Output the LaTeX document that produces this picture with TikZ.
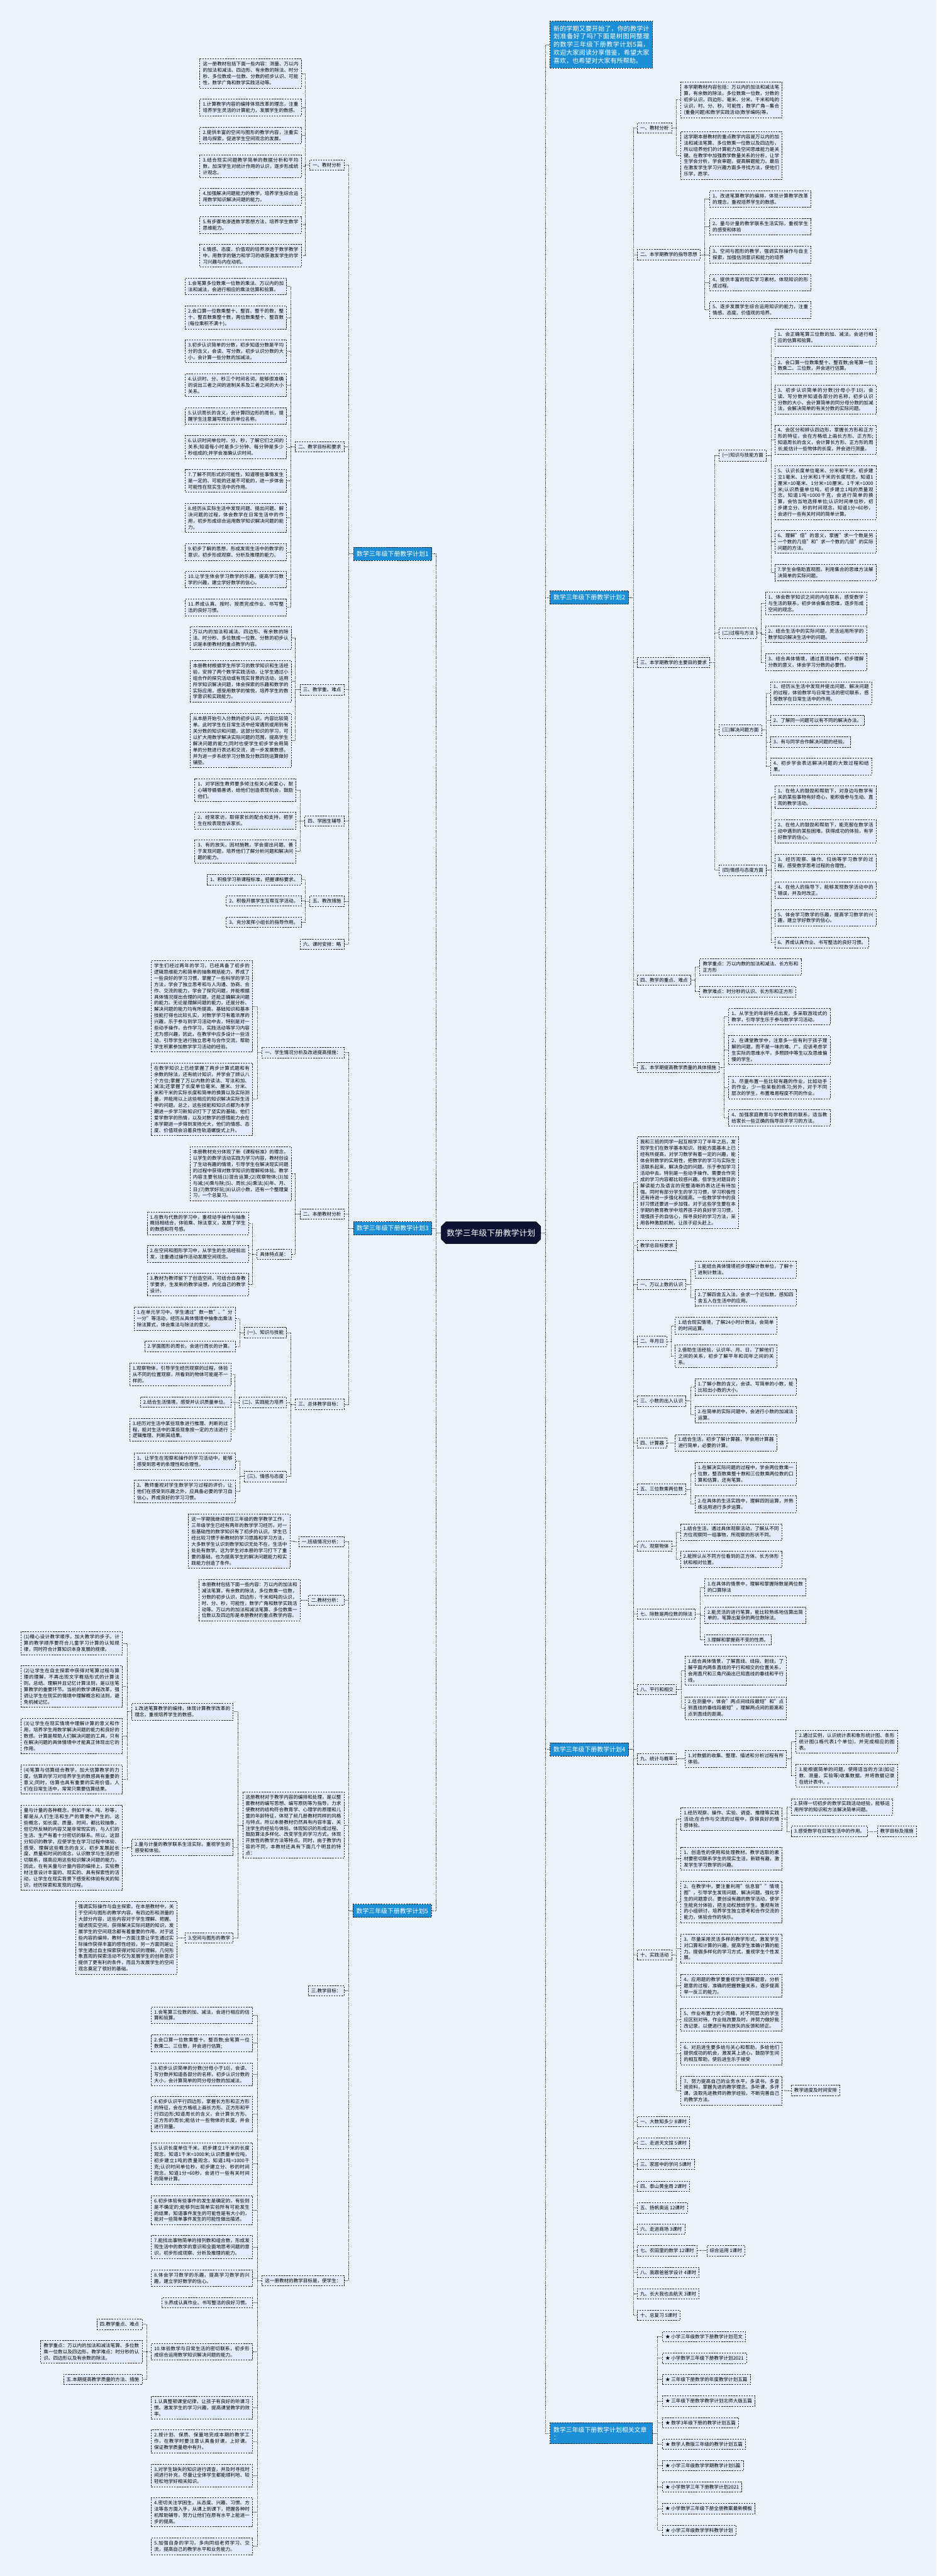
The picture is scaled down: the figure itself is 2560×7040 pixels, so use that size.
\documentclass[tikz,border=0pt]{standalone}
\usepackage{fontspec}
\setmainfont{Noto Sans CJK SC}
\usetikzlibrary{shapes.misc}
\XeTeXlinebreaklocale "zh"
\XeTeXlinebreakskip=0pt plus 1pt
\tolerance=10000
\definecolor{pagebg}{HTML}{EEF4FE}
\definecolor{boxbg}{HTML}{E2EBFA}
\definecolor{topicblue}{HTML}{1C8FD6}
\definecolor{rootnavy}{HTML}{0E1233}
\definecolor{lineblk}{HTML}{222222}
\tikzset{
  dashbox/.style={draw=lineblk, line width=1.4pt, dash pattern=on 4pt off 3pt},
  tag/.style={dashbox, fill=boxbg, inner xsep=8pt, inner ysep=8pt, font=\fontsize{13}{17}\selectfont},
  note/.style={tag, text width=261pt, align=justify},
  topic/.style={dashbox, fill=topicblue, text=white, inner xsep=9pt, inner ysep=10pt, font=\fontsize{17}{21}\selectfont},
  hexa/.style={chamfered rectangle, chamfered rectangle xsep=9pt, draw=black, line width=1pt, fill=rootnavy, text=white, font=\fontsize{22}{26}\selectfont, inner xsep=6pt, inner ysep=16pt},
  link/.style={draw=lineblk, line width=1.5pt, dash pattern=on 2pt off 2pt},
}
\begin{document}
\begin{tikzpicture}[x=1pt, y=-1pt]
\fill[pagebg] (0,0) rectangle (2560,7040);
\useasboundingbox (0,0) rectangle (2560,7040);

% centre
\node[hexa] (plan) at (1342,3369) {数学三年级下册教学计划};
\node[topic, anchor=west, text width=262pt, align=justify, inner ysep=12pt, font=\fontsize{17.3}{22}\selectfont] (intro) at (1503,122) {新的学期又要开始了，你的教学计划准备好了吗?下面是树图网整理的数学三年级下册教学计划5篇，欢迎大家阅读分享借鉴，希望大家喜欢，也希望对大家有所帮助。};

% plan 1
\node[topic, anchor=east] (p1) at (1181,1514) {数学三年级下册教学计划1};
\node[tag, anchor=east] (p1a) at (941,451) {一、教材分析};
\node[note, anchor=east] (p1a1) at (824,201) {这一册教材包括下面一些内容：测量、万以内的加法和减法、四边形、有余数的除法、时分秒、多位数成一位数、分数的初步认识、可能性，数学广角和数学实践活动等。};
\node[note, anchor=east] (p1a2) at (824,294) {1.计算教学内容的编排体现改革的理念，注重培养学生灵活的计算能力，发展学生的数感。};
\node[note, anchor=east] (p1a3) at (824,370) {2.提供丰富的空间与图形的教学内容，注重实践与探索，促进学生空间观念的发展。};
\node[note, anchor=east] (p1a4) at (824,455) {3.结合现实问题教学简单的数据分析和平均数，加深学生对统计作用的认识，逐步形成统计观念。};
\node[note, anchor=east] (p1a5) at (824,538) {4.加强解决问题能力的教学，培养学生综合运用数学知识解决问题的能力。};
\node[note, anchor=east] (p1a6) at (824,615) {5.有步骤地渗透数学思想方法，培养学生数学思维能力。};
\node[note, anchor=east] (p1a7) at (824,699) {6.情感、态度、价值观的培养渗透于数学教学中，用数学的魅力和学习的收获激发学生的学习兴趣与内在动机。};
\node[tag, anchor=east] (p1b) at (941,1221) {二、教学目标和要求};
\node[note, anchor=east] (p1b1) at (784,783) {1.会笔算多位数乘一位数的乘法、万以内的加法和减法，会进行相应的乘法估算和验算。};
\node[note, anchor=east] (p1b2) at (784,868) {2.会口算一位数乘整十、整百、整千的数，整十、整百数乘整十数，两位数乘整十、整百数(每位乘积不满十)。};
\node[note, anchor=east] (p1b3) at (784,960) {3.初步认识简单的分数，初步知道分数是平均分的含义，会读、写分数，初步认识分数的大小，会计算一些分数的加减法。};
\node[note, anchor=east] (p1b4) at (784,1053) {4.认识时、分、秒三个时间名词，能够很准确的说出三者之间的进制关系及三者之间的大小关系。};
\node[note, anchor=east] (p1b5) at (784,1137) {5.认识周长的含义，会计算四边形的周长，提醒学生注意漏写周长的单位名称。};
\node[note, anchor=east] (p1b6) at (784,1222) {6.认识时间单位时、分、秒，了解它们之间的关系;知道每小时是多少分钟、每分钟是多少秒组成的;并学会准确认识时间。};
\node[note, anchor=east] (p1b7) at (784,1314) {7.了解不同形式的可能性，知道哪些事情发生是一定的、可能的还是不可能的，进一步体会可能性在现实生活中的作用。};
\node[note, anchor=east] (p1b8) at (784,1415) {8.经历从实际生活中发现问题、提出问题、解决问题的过程，体会数学在日常生活中的作用，初步形成综合运用数学知识解决问题的能力。};
\node[note, anchor=east] (p1b9) at (784,1509) {9.初步了解的思想，形成发现生活中的数学的意识，初步形成观察、分析及推理的能力。};
\node[note, anchor=east] (p1b10) at (784,1584) {10.让学生体会学习数学的乐趣，提高学习数学的兴趣，建立学好数学的信心。};
\node[note, anchor=east] (p1b11) at (784,1660) {11.养成认真、按时、按质完成作业、书写整洁的良好习惯。};
\node[tag, anchor=east] (p1c) at (941,1885) {三、教学重、难点};
\node[note, anchor=east] (p1c1) at (797,1744) {万以内的加法和减法、四边形、有余数的除法、时分秒、多位数成一位数、分数的初步认识是本册教材的重点教学内容。};
\node[note, anchor=east] (p1c2) at (797,1862) {本册教材根据学生所学习的数学知识和生活经验，安排了两个数学实践活动，让学生通过小组合作的探究活动或有现实背景的活动，运用所学知识解决问题，体会探索的乐趣和数学的实际应用，感受用数学的愉悦，培养学生的数学意识和实践能力。};
\node[note, anchor=east] (p1c3) at (797,2024) {从本册开始引入分数的初步认识，内容比较简单。此时学生在日常生活中经常遇到或用到有关分数的知识和问题，这部分知识的学习，可以扩大用数学解决实际问题的范围，提高学生解决问题的能力;同时也使学生初步学会用简单的分数进行表达和交流，进一步发展数感，并为进一步系统学习分数及分数四则运算做好铺垫。};
\node[tag, anchor=east] (p1d) at (941,2244) {四、学困生辅导};
\node[note, anchor=east] (p1d1) at (810,2160) {1、对学困生教师要多倾注些关心和爱心，耐心辅导循循善诱，给他们创造表现机会，鼓励他们。};
\node[note, anchor=east] (p1d2) at (810,2243) {2、经常家访，取得家长的配合和支持，把学生在校表现告诉家长。};
\node[note, anchor=east] (p1d3) at (810,2327) {3、有的放矢，因材施教。学会提出问题、善于发现问题，培养他们了解分析问题和解决问题的能力。};
\node[tag, anchor=east] (p1e) at (941,2463) {五、教改措施};
\node[tag, anchor=east] (p1e1) at (824,2404) {1、积极学习新课程标准，把握课标要求。};
\node[tag, anchor=east] (p1e2) at (824,2462) {2、积极开展学生互帮互学活动。};
\node[tag, anchor=east] (p1e3) at (824,2520) {3、充分发挥小组长的指导作用。};
\node[tag, anchor=east] (p1f) at (941,2580) {六、课时安排：略};

% plan 3
\node[topic, anchor=east] (p3) at (1181,3357) {数学三年级下册教学计划3};
\node[tag, anchor=east] (p3a) at (941,2877) {一、学生情况分析及改进提高措施：};
\node[note, anchor=east] (p3a1) at (691,2750) {学生们经过两年的学习，已经具备了初步的逻辑思维能力和简单的抽象概括能力，养成了一些良好的学习习惯，掌握了一些科学的学习方法，学会了独立思考和与人沟通、协商、合作、交流的能力，学会了探究问题，并能根据具体情况提出合理的问题，还能正确解决问题的能力。无论是理解问题的能力，还是分析、解决问题的能力均有所提高，基础知识和基本技能打得也比较扎实，对数学学习有着浓厚的兴趣，乐于参与到学习活动中去，特别是对一些动手操作，合作学习，实践活动等学习内容尤为感兴趣，因此，在教学中应多设计一些活动，引导学生进行独立思考与合作交流，帮助学生积累参加数学学习活动的经验。};
\node[note, anchor=east] (p3a2) at (691,3004) {在数学知识上已经掌握了两步计算式题和有余数的除法，还有统计知识，并学会了辨认八个方位;掌握了万以内数的读法、写法和加、减法;还掌握了长度单位毫米、厘米、分米、米和千米的实际长度和简单的换算以及实际测量，并能用以上这些相应的知识解决实际生活中的问题。总之，这些技能和知识点都为本学期进一步学习新知识打下了坚实的基础，他们爱学数学的热情，以及对数学的感悟能力会在本学期进一步得到发扬光大，他们的情感、态度、价值观会沿着良性轨道螺旋式上升。};
\node[tag, anchor=east] (p3b) at (941,3318) {二、本册教材分析};
\node[note, anchor=east] (p3b1) at (797,3208) {本册教材充分体现了新《课程标准》的理念，以学生的数学活动实践为学习内容，教材创设了生动有趣的情境，引导学生在解决现实问题的过程中获得对数学知识的理解和体验。教学内容主要包括(1)混合运算;(2)观察物体;(3)加与减;(4)乘与除;(5)、周长;(6)乘法;(6)年、月、日;(7)数学好玩;(8)认识小数，还有一个整理复习，一个总复习。};
\node[tag, anchor=east] (p3b2) at (797,3428) {具体特点是：};
\node[note, anchor=east] (p3b2a) at (680,3343) {1.在数与代数的学习中，重视动手操作与抽象概括相结合，体验乘、除法意义，发展了学生的数感和符号感。};
\node[note, anchor=east] (p3b2b) at (680,3427) {2.在空间和图形学习中，从学生的生活经验出发，注重通过操作活动发展空间观念。};
\node[note, anchor=east] (p3b2c) at (680,3511) {3.教材为教师留下了创造空间，可结合自身教学要求，生发新的教学设想，内化自己的教学设计。};
\node[tag, anchor=east] (p3c) at (941,3838) {三、总体教学目标：};
\node[tag, anchor=east] (p3c1) at (784,3642) {(一)、知识与技能};
\node[note, anchor=east] (p3c1a) at (644,3604) {1.在单元学习中，学生通过"数一数"、"分一分"等活动，经历从具体情境中抽象出乘法除法算式，体会乘法与除法的意义。};
\node[tag, anchor=east] (p3c1b) at (644,3680) {2.学面图形的周长，会进行周长的计算。};
\node[tag, anchor=east] (p3c2) at (784,3833) {(二)、实践能力培养};
\node[note, anchor=east] (p3c2a) at (632,3756) {1.观察物体，引导学生经历观察的过程，体验从不同的位置观察，所看到的物体可能是不一样的。};
\node[tag, anchor=east] (p3c2b) at (632,3832) {2.结合生活情境，感受并认识质量单位。};
\node[note, anchor=east] (p3c2c) at (632,3907) {3.经历对生活中某些现象进行推理、判断的过程，能对生活中的某些现象按一定的方法进行逻辑推理、判断其结果。};
\node[tag, anchor=east] (p3c3) at (784,4035) {(三)、情感与态度};
\node[note, anchor=east] (p3c3a) at (644,3993) {1、让学生在观察和操作的学习活动中，能够感受到思考的条理性和合理性。};
\node[note, anchor=east] (p3c3b) at (644,4076) {2、教师重视对学生数学学习过程的评价，让他们在感受到乐趣之外，应具备必要的学习自信心，养成良好的学习习惯。};

% plan 5
\node[topic, anchor=east] (p5) at (1180,5222) {数学三年级下册教学计划5};
\node[tag, anchor=east] (p5a) at (941,4213) {一.班级情况分析：};
\node[note, anchor=east] (p5a1) at (793,4212) {这一学期我继续担任三年级的数学教学工作，三年级学生已经有两年的数学学习经历，对一些基础性的数学知识有了初步的认识。学生已经比较习惯于新教材的学习思路和学习方法，大多数学生认识到数学知识无处不在，生活中处处有数学。这为学生对本册的学习打下了重要的基础，也为提高学生的解决问题能力和实践能力创造了条件。};
\node[tag, anchor=east] (p5b) at (941,4373) {二.教材分析：};
\node[note, anchor=east] (p5b1) at (821,4373) {本册教材包括下面一些内容：万以内的加法和减法笔算，有余数的除法，多位数乘一位数，分数的初步认识，四边形，千米和吨的认识，时、分、秒，可能性，数学广角和数学实践活动等。万以内的加法和减法笔算、多位数乘一位数以及四边形是本册教材的重点教学内容。};
\node[note, anchor=east] (p5c) at (941,4988) {这册教材对于教学内容的编排和处理，是以整套教材的编写思想、编写原则等为指导，力求使教材的结构符合教育学、心理学的原理和儿童的年龄特征，体现了前几册教材同样的风格与特点。所以本册教材仍然具有内容丰富、关注学生的经验与体验、体现知识的形成过程、鼓励算法多样化、改变学生的学习方式，体现开放性的教学方法等特点。同时，由于教学内容的不同，本教材还具有下面几个明显的特点：};
\node[note, anchor=east] (p5c1) at (638,4678) {1.改进笔算教学的编排，体现计算教学改革的理念，重视培养学生的数感。};
\node[note, anchor=east] (p5c1a) at (335,4491) {(1)精心设计教学顺序，加大教学的步子。计算的教学顺序要符合儿童学习计算的认知规律，同时符合计算知识本身发展的规律。};
\node[note, anchor=east] (p5c1b) at (335,4609) {(2)让学生在自主探索中获得对笔算过程与算理的理解，不再出现文字概括形式的计算法则。总结、理解并且记忆计算法则，是以往笔算教学的重要环节。当前的数学课程改革，强调让学生在现实的情境中理解概念和法则，避免机械记忆。};
\node[note, anchor=east] (p5c1c) at (335,4745) {(3)让学生在现实情境中理解计算的意义和作用，培养学生用数学解决问题的能力和良好的数感。计算是帮助人们解决问题的工具，只有在解决问题的具体情境中才能真正体现出它的作用。};
\node[note, anchor=east] (p5c1d) at (335,4863) {(4)笔算与估算结合教学，加大估算教学的力度。估算的学习对培养学生的数感具有重要的意义;同时，估算也具有重要的实用价值，人们在日常生活中，常常只需要估算结果。};
\node[note, anchor=east] (p5c2) at (638,5049) {2.量与计量的教学联系生活实际，重视学生的感受和体验。};
\node[note, anchor=east] (p5c2a) at (335,5050) {量与计量的各种概念，例如千米、吨、秒等，都是从人们生活和生产的需要中产生的。这些概念，如长度、质量、时间，都比较抽象，但它所反映的内容又是非常现实的，与人们的生活、生产有着十分密切的联系。所以，这部分知识的教学，应使学生在学习过程中体验、感受、理解这些概念的含义，初步发展起长度、质量和时间的观念，认识数学与生活的密切联系，提高应用这些知识解决问题的能力。因此，在有关量与计量内容的编排上，实验教材注意设计丰富的、现实的、具有探索性的活动，让学生在现实背景下感受和体验有关的知识，经历探索和发现的过程。};
\node[tag, anchor=east] (p5c3) at (638,5296) {3.空间与图形的教学};
\node[note, anchor=east] (p5c3a) at (484,5296) {强调实际操作与自主探索，在本册教材中，关于空间与图形的教学内容，有四边形和测量的大部分内容，这些内容对于学生理解、把握、描述现实空间，获得解决实际问题的知识，发展学生的空间观念都有着重要的作用。对于这些内容的编排，教材一方面注意让学生通过实际操作获得丰富的感性经验，另一方面则是让学生通过自主探索获得对知识的理解。几何形象直观的探索活动不仅为发展学生的创新意识提供了更有利的条件，而且为发展学生的空间观念奠定了很好的基础。};
\node[tag, anchor=east] (p5d) at (941,5440) {三.教学目标：};
\node[tag, anchor=east] (p5e) at (941,6233) {这一册教材的教学目标是，使学生：};
\node[note, anchor=east] (p5e1) at (691,5507) {1.会笔算三位数的加、减法，会进行相应的估算和验算。};
\node[note, anchor=east] (p5e2) at (691,5584) {2.会口算一位数乘整十、整百数;会笔算一位数乘二、三位数，并会进行估算;};
\node[note, anchor=east] (p5e3) at (691,5669) {3.初步认识简单的分数(分母小于10)，会读、写分数并知道各部分的名称，初步认识分数的大小，会计算简单的同分母分数的加减法。};
\node[note, anchor=east] (p5e4) at (691,5778) {4.初步认识平行四边形，掌握长方形和正方形的特征，会在方格纸上画长方形、正方形和平行四边形;知道周长的含义，会计算长方形、正方形的周长;能估计一些物体的长度，并会进行测量。};
\node[note, anchor=east] (p5e5) at (691,5913) {5.认识长度单位千米，初步建立1千米的长度观念，知道1千米=1000米;认识质量单位吨，初步建立1吨的质量观念，知道1吨=1000千克;认识时间单位秒，初步建立分、秒的时间观念，知道1分=60秒，会进行一些有关时间的简单计算。};
\node[note, anchor=east] (p5e6) at (691,6040) {6.初步体验有些事件的发生是确定的，有些则是不确定的;能够列出简单实验所有可能发生的结果，知道事件发生的可能性是有大小的，能对一些简单事件发生的可能性做出描述。};
\node[note, anchor=east] (p5e7) at (691,6141) {7.能找出事物简单的排列数和组合数，形成发现生活中的数学的意识和全面地思考问题的意识，初步形成观察、分析及推理的能力。};
\node[note, anchor=east] (p5e8) at (691,6226) {8.体会学习数学的乐趣，提高学习数学的兴趣，建立学好数学的信心。};
\node[tag, anchor=east] (p5e9) at (691,6293) {9.养成认真作业、书写整洁的良好习惯。};
\node[note, anchor=east] (p5e10) at (691,6427) {10.体验数学与日常生活的密切联系，初步形成综合运用数学知识解决问题的能力。};
\node[tag, anchor=east] (p5e10a) at (389,6352) {四.教学重点、难点};
\node[note, anchor=east] (p5e10b) at (389,6427) {教学重点：万以内的加法和减法笔算、多位数乘一位数以及四边形。教学难点：时分秒的认识、四边形以及有余数的除法。};
\node[tag, anchor=east] (p5e10c) at (389,6503) {五.本期提高教学质量的方法、措施};
\node[note, anchor=east] (p5e11) at (691,6580) {1.认真整顿课堂纪律，让孩子有良好的听课习惯。激发学生的学习兴趣，提高课堂教学的效率。};
\node[note, anchor=east] (p5e12) at (691,6672) {2.按计划、保质、保量地完成本期的教学工作，在教学时要注意认真备好课，上好课。保证教学质量稳中有升。};
\node[note, anchor=east] (p5e13) at (691,6765) {3.对学生缺失的知识进行调查，并及时寻找时间进行补充，尽量让全体学生都能顺利地、较轻松地学好相关知识。};
\node[note, anchor=east] (p5e14) at (691,6866) {4.密切关注学困生，从态度、兴趣、习惯、方法等各方面入手，从课上到课下，把握各种时机帮助辅导，努力让他们在原有水平上能进一步的提高。};
\node[note, anchor=east] (p5e15) at (691,6959) {5.加强自身的学习，多向同组老师学习、交流，提高自己的教学水平和业务能力。};

% plan 2
\node[topic, anchor=west] (p2) at (1503,1633) {数学三年级下册教学计划2};
\node[tag, anchor=west] (p2a) at (1741,350) {一、教材分析};
\node[note, anchor=west] (p2a1) at (1860,273) {本学期教材内容包括：万以内的加法和减法笔算，有余数的除法，多位数乘一位数，分数的初步认识，四边形，毫米、分米、千米和吨的认识，时、分、秒，可能性，数学广角—集合(重叠问题)和数学实践活动(数学编码)等。};
\node[note, anchor=west] (p2a2) at (1860,425) {这学期本册教材的重点教学内容是万以内的加法和减法笔算、多位数乘一位数以及四边形，所以培养他们的计算能力及空间思维能力是关键。在教学中加强数学数量关系的分析，让学生学会分析，学会审题，提高解题能力。最后在激发学生学习兴趣方面多寻找方法，使他们乐学，愿学。};
\node[tag, anchor=west] (p2b) at (1741,696) {二、本学期教学的指导思想};
\node[note, anchor=west] (p2b1) at (1939,544) {1、改进笔算教学的编排，体现计算教学改革的理念，重视培养学生的数感。};
\node[note, anchor=west] (p2b2) at (1939,620) {2、量与计量的教学联系生活实际，重视学生的感受和体验};
\node[note, anchor=west] (p2b3) at (1939,696) {3、空间与图形的教学，强调实际操作与自主探索，加强估测意识和能力的培养};
\node[note, anchor=west] (p2b4) at (1939,772) {4、提供丰富的现实学习素材，体现知识的形成过程。};
\node[note, anchor=west] (p2b5) at (1939,847) {5、逐步发展学生综合运用知识的能力，注重情感、态度、价值观的培养。};
\node[tag, anchor=west] (p2c) at (1741,1811) {三、本学期教学的主要目的要求};
\node[tag, anchor=west] (p2c1) at (1965,1245) {(一)知识与技能方面};
\node[note, anchor=west] (p2c1a) at (2117,923) {1、会正确笔算三位数的加、减法，会进行相应的估算和验算。};
\node[note, anchor=west] (p2c1b) at (2117,999) {2、会口算一位数乘整十、整百数;会笔算一位数乘二、三位数，并会进行估算。};
\node[note, anchor=west] (p2c1c) at (2117,1092) {3、初步认识简单的分数(分母小于10)，会读、写分数并知道各部分的名称，初步认识分数的大小，会计算简单的同分母分数的加减法，会解决简单的有关分数的实际问题。};
\node[note, anchor=west] (p2c1d) at (2117,1202) {4、会区分和辨认四边形，掌握长方形和正方形的特征，会在方格纸上画长方形、正方形;知道周长的含义，会计算长方形、正方形的周长;能估计一些物体的长度，并会进行测量。};
\node[note, anchor=west] (p2c1e) at (2117,1346) {5、认识长度单位毫米、分米和千米，初步建立1毫米、1分米和1千米的长度观念，知道1厘米=10毫米、1分米=10厘米、1千米=1000米;认识质量单位吨，初步建立1吨的质量观念，知道1吨=1000千克，会进行简单的换算，会恰当地选择单位;认识时间单位秒，初步建立分、秒的时间观念，知道1分=60秒，会进行一些有关时间的简单计算。};
\node[note, anchor=west] (p2c1f) at (2117,1481) {6、理解"倍"的意义，掌握"求一个数是另一个数的几倍"和"求一个数的几倍"的实际问题的方法。};
\node[note, anchor=west] (p2c1g) at (2117,1565) {7.学生会借助直观图，利用集合的思维方法解决简单的实际问题。};
\node[tag, anchor=west] (p2c2) at (1965,1730) {(二)过程与方法};
\node[note, anchor=west] (p2c2a) at (2091,1649) {1、体会数学知识之间的内在联系，感受数学与生活的联系，初步体会集合思维，逐步形成空间的观念。};
\node[note, anchor=west] (p2c2b) at (2091,1733) {2、结合生活中的实际问题，灵活运用所学的数学知识解决生活中的问题。};
\node[note, anchor=west] (p2c2c) at (2091,1810) {3、结合具体情境，通过直观操作，初步理解分数的意义，体会学习分数的必要性。};
\node[tag, anchor=west] (p2c3) at (1965,1995) {(三)解决问题方面};
\node[note, anchor=west] (p2c3a) at (2105,1894) {1、经历从生活中发现并提出问题、解决问题的过程，体验数学与日常生活的密切联系，感受数学在日常生活中的作用。};
\node[tag, anchor=west] (p2c3b) at (2105,1969) {2、了解同一问题可以有不同的解决办法。};
\node[tag, anchor=west] (p2c3c) at (2105,2028) {3、有与同学合作解决问题的经验。};
\node[note, anchor=west] (p2c3d) at (2105,2095) {4、初步学会表达解决问题的大致过程和结果。};
\node[tag, anchor=west] (p2c4) at (1965,2378) {(四)情感与态度方面};
\node[note, anchor=west] (p2c4a) at (2117,2179) {1、在他人的鼓励和帮助下，对身边与数学有关的某些事物有好奇心，能积极参与生动、直观的教学活动。};
\node[note, anchor=west] (p2c4b) at (2117,2272) {2、在他人的鼓励和帮助下，能克服在数学活动中遇到的某些困难，获得成功的体验，有学好数学的信心。};
\node[note, anchor=west] (p2c4c) at (2117,2357) {3、经历观察、操作、归纳等学习数学的过程，感受数学思考过程的合理性。};
\node[note, anchor=west] (p2c4d) at (2117,2433) {4、在他人的指导下，能够发现数学活动中的错误，并及时改正。};
\node[note, anchor=west] (p2c4e) at (2117,2508) {5、体会学习数学的乐趣，提高学习数学的兴趣，建立学好数学的信心。};
\node[tag, anchor=west] (p2c4f) at (2117,2576) {6、养成认真作业、书写整洁的良好习惯。};
\node[tag, anchor=west] (p2d) at (1741,2678) {四、教学的重点、难点};
\node[note, anchor=west] (p2d1) at (1912,2643) {教学重点：万以内数的加法和减法、长方形和正方形};
\node[tag, anchor=west] (p2d2) at (1912,2710) {教学难点：时分秒的认识、长方形和正方形};
\node[tag, anchor=west] (p2e) at (1741,2917) {五、本学期提高教学质量的具体措施};
\node[note, anchor=west] (p2e1) at (1991,2778) {1、从学生的年龄特点出发，多采取游戏式的教学，引导学生乐于参与数学学习活动。};
\node[note, anchor=west] (p2e2) at (1991,2870) {2、在课堂教学中，注意多一些有利于孩子理解的问题，而不是一味的难、广。应该考虑学生实际的思维水平，多照顾中等生以及思维偏慢的学生。};
\node[note, anchor=west] (p2e3) at (1991,2972) {3、尽量布置一些比较有趣的作业，比如动手的作业，少一些呆板的练习;另外，对于不同层次的学生，布置难易程度不同的作业。};
\node[note, anchor=west] (p2e4) at (1991,3055) {4、加强家庭教育与学校教育的联系，适当教给家长一些正确的指导孩子学习的方法。};

% plan 4
\node[topic, anchor=west] (p4) at (1503,4781) {数学三年级下册教学计划4};
\node[note, anchor=west] (p4a) at (1741,3232) {我和三班的同学一起互相学习了半年之后，发现学生们在数学基本知识、技能方面基本上已经有所提高，对学习数学有着一定的兴趣，能体会到数学的实用性，把数学的学习与实际生活联系起来，解决身边的问题。乐于参加学习活动中去。特别是一些动手操作、需要合作完成的学习内容都比较感兴趣。但学生对题目的解读能力及语言的完整清晰的表达还有待加强。同时有部分学生的学习习惯，学习积极性还有待进一步强化和提高。一些数学学中的良好习惯还要进一步加强，对于这些学生要在本学期的教育教学中培养孩子的良好学习习惯，增强孩子的自信心，探寻良好的学习方法，采用各种激励机制，让孩子迎头赶上。};
\node[tag, anchor=west] (p4b) at (1741,3404) {教学总目标要求};
\node[tag, anchor=west] (p4c) at (1741,3510) {一、万以上数的认识};
\node[note, anchor=west] (p4c1) at (1899,3470) {1.能结合具体情境初步理解计数单位，了解十进制计数法。};
\node[note, anchor=west] (p4c2) at (1899,3547) {2.了解四舍五入法，会求一个近似数，感知四舍五入在生活中的应用。};
\node[tag, anchor=west] (p4d) at (1741,3666) {二、年月日};
\node[note, anchor=west] (p4d1) at (1845,3623) {1.结合现实情境，了解24小时计数法，会简单的时间运算。};
\node[note, anchor=west] (p4d2) at (1845,3706) {2.借助生活经验，认识年、月、日，了解他们之间的关系，初步了解平年和闰年之间的关系。};
\node[tag, anchor=west] (p4e) at (1741,3829) {三、小数的出入认识};
\node[note, anchor=west] (p4e1) at (1899,3791) {1.了解小数的含义，会读、写简单的小数，能比较出小数的大小。};
\node[note, anchor=west] (p4e2) at (1899,3866) {2.在简单的实际问题中，会进行小数的加减法运算。};
\node[tag, anchor=west] (p4f) at (1741,3943) {四、计算器};
\node[note, anchor=west] (p4f1) at (1845,3943) {1.结合生活，初步了解计算器，学会用计算器进行简单，必要的计算。};
\node[tag, anchor=west] (p4g) at (1741,4070) {五、三位数乘两位数};
\node[note, anchor=west] (p4g1) at (1899,4028) {1.在解决实际问题的过程中，学会两位数乘一位数，整百数乘整十数和三位数乘两位数的口算和估算，还有笔算。};
\node[note, anchor=west] (p4g2) at (1899,4111) {2.在具体的生活实践中，理解四则运算，并熟练运用进行多步运算。};
\node[tag, anchor=west] (p4h) at (1741,4225) {六、观察物体};
\node[note, anchor=west] (p4h1) at (1859,4187) {1.结合生活，通过具体观察活动，了解从不同方位观察同一组事物，所观察的形状不同。};
\node[note, anchor=west] (p4h2) at (1859,4262) {2.能辨认从不同方位看到的正方体、长方体形状和相对位置。};
\node[tag, anchor=west] (p4i) at (1741,4411) {七、除数是两位数的除法};
\node[note, anchor=west] (p4i1) at (1925,4338) {1.在具体的情景中，理解和掌握除数是两位数的口算除法};
\node[note, anchor=west] (p4i2) at (1925,4414) {2.能灵活的进行笔算，能比较熟练地估算出简单的，笔算出复杂的两位数除法。};
\node[tag, anchor=west] (p4i3) at (1925,4481) {3.理解和掌握商不变的性质。};
\node[tag, anchor=west] (p4j) at (1741,4617) {八、平行和相交};
\node[note, anchor=west] (p4j1) at (1872,4566) {1.结合具体情景，了解直线、线段、射线，了解平面内两条直线的平行和相交的位置关系，会用直尺和三角尺画出已知直线的垂线和平行线。};
\node[note, anchor=west] (p4j2) at (1872,4668) {2.在测量中，体会"两点间线段最短"和"点到直线的垂线段最短"，理解两点间的距离和点到直线的距离。};
\node[tag, anchor=west] (p4k) at (1741,4807) {九、统计与概率};
\node[note, anchor=west] (p4k1) at (1872,4807) {1.对数据的收集、整理、描述和分析过程有所体验。};
\node[note, anchor=west] (p4k1a) at (2175,4760) {2.通过实例，认识统计表和象形统计图、条形统计图(1格代表1个单位)，并完成相应的图表。};
\node[note, anchor=west] (p4k1b) at (2175,4853) {3.能根据简单的问题，使用适当的方法(如记数、测量、实验等)收集数据，并将数据记录在统计表中。。};
\node[tag, anchor=west] (p4l) at (1741,5343) {十、实践活动};
\node[note, anchor=west] (p4l1) at (1860,4972) {1.经历观察、操作、实验、调查、推理等实践活动;在合作与交流的过程中，获得良好的情感体验。};
\node[note, anchor=west] (p4l1a) at (2162,4938) {2.获得一切初步的数学实践活动经验，能够运用所学的知识和方法解决简单问题。};
\node[tag, anchor=west] (p4l1b) at (2162,5005) {3.感受数学在日常生活中的作用。};
\node[tag, anchor=west] (p4l1c) at (2397,5005) {教学目标及措施};
\node[note, anchor=west] (p4l2) at (1860,5080) {1、创造性的使用和处理教材。教学选取的素材要密切联系学生的现实生活，新颖有趣，激发学生学习数学的兴趣。};
\node[note, anchor=west] (p4l3) at (1860,5198) {2、在教学中，要注重利用"信息窗""情境图"，引导学生发现问题、解决问题。强化学生的问题意识。要创设有趣的数学活动，使学生能充分体验，把主动权放给学生。重视有效的小组研讨，培养学生独立思考和合作交流的能力，体验合作的快乐。};
\node[note, anchor=west] (p4l4) at (1860,5325) {3、尽量采用灵活多样的教学形式，激发学生对口算和计算的兴趣，提高学生准确计算的能力。提倡多样化的学习方式，重视学生个性发展。};
\node[note, anchor=west] (p4l5) at (1860,5427) {4、应用题的教学要重视学生理解题意，分析题意的过程，准确的把握数量关系，逐步提高举一反三的能力。};
\node[note, anchor=west] (p4l6) at (1860,5520) {5、作业布置力求少而精，对不同层次的学生应区别对待。作业批改要及时，并努力做好批改记录，以便进行有的放矢的反馈和矫正。};
\node[note, anchor=west] (p4l7) at (1860,5612) {6、对后进生要多给与关心和帮助，多给他们提供成功的机会，激发其上进心。鼓励学生间的相互帮助，使后进生乐于接受};
\node[note, anchor=west] (p4l8) at (1860,5713) {7、努力提高自己的业务水平，多读书，多查阅资料，掌握先进的教学理念。多听课，多评课，汲取先进教师的教学经验，不断完善自己的教学方法。};
\node[tag, anchor=west] (p4l8a) at (2162,5713) {教学进度及时间安排};
\node[tag, anchor=west] (p4m) at (1741,5798) {一、大数知多少 8课时};
\node[tag, anchor=west] (p4n) at (1741,5857) {二、走进天文馆 5课时};
\node[tag, anchor=west] (p4o) at (1741,5915) {三、家居中的学问 5课时};
\node[tag, anchor=west] (p4p) at (1741,5975) {四、泰山黄金周 2课时};
\node[tag, anchor=west] (p4q) at (1741,6034) {五、扬帆奥运 12课时};
\node[tag, anchor=west] (p4r) at (1741,6092) {六、走进商场 3课时};
\node[tag, anchor=west] (p4s) at (1741,6151) {七、农田里的数学 12课时};
\node[tag, anchor=west] (p4s1) at (1931,6151) {综合运用 1课时};
\node[tag, anchor=west] (p4t) at (1741,6210) {八、我跟爸爸学设计 4课时};
\node[tag, anchor=west] (p4u) at (1741,6269) {九、长大我也去航天 3课时};
\node[tag, anchor=west] (p4v) at (1741,6327) {十、总复习 5课时};

% related
\node[topic, anchor=west, text width=262pt, align=left, inner ysep=11pt] (rel) at (1503,6650) {数学三年级下册教学计划相关文章\\：};
\node[tag, anchor=west] (rel1) at (1810,6386) {★ 小学三年级数学下册教学计划范文};
\node[tag, anchor=west] (rel2) at (1810,6445) {★ 小学数学三年级下册教学计划2021};
\node[tag, anchor=west] (rel3) at (1810,6503) {★ 三年级下册数学的年度教学计划五篇};
\node[tag, anchor=west] (rel4) at (1810,6562) {★ 三年级下册数学教学计划北师大版五篇};
\node[tag, anchor=west] (rel5) at (1810,6621) {★ 数学3年级下册的教学计划五篇};
\node[tag, anchor=west] (rel6) at (1810,6680) {★ 数学人教版三年级的教学计划五篇};
\node[tag, anchor=west] (rel7) at (1810,6738) {★ 小学三年级数学学期教学计划5篇};
\node[tag, anchor=west] (rel8) at (1810,6797) {★ 小学数学三年下册教学计划2021};
\node[tag, anchor=west] (rel9) at (1810,6856) {★ 小学数学三年级下册全册教案最新模板};
\node[tag, anchor=west] (rel10) at (1810,6915) {★ 小学三年级数学学科教学计划};

% connectors from the centre
\draw[link] (plan.west) -- ++(-13,0) |- (p1.east);
\draw[link] (plan.west) -- ++(-13,0) |- (p3.east);
\draw[link] (plan.west) -- ++(-13,0) |- (p5.east);
\draw[link] (plan.east) -- ++(12,0) |- (intro.west);
\draw[link] (plan.east) -- ++(12,0) |- (p2.west);
\draw[link] (plan.east) -- ++(12,0) |- (p4.west);
\draw[link] (plan.east) -- ++(12,0) |- (rel.west);

% plan 1 links
\draw[link] (p1.west) -- ++(-12,0) |- (p1a.east);
\draw[link] (p1.west) -- ++(-12,0) |- (p1b.east);
\draw[link] (p1.west) -- ++(-12,0) |- (p1c.east);
\draw[link] (p1.west) -- ++(-12,0) |- (p1d.east);
\draw[link] (p1.west) -- ++(-12,0) |- (p1e.east);
\draw[link] (p1.west) -- ++(-12,0) |- (p1f.east);
\draw[link] (p1a.west) -- ++(-12,0) |- (p1a1.east);
\draw[link] (p1a.west) -- ++(-12,0) |- (p1a2.east);
\draw[link] (p1a.west) -- ++(-12,0) |- (p1a3.east);
\draw[link] (p1a.west) -- ++(-12,0) |- (p1a4.east);
\draw[link] (p1a.west) -- ++(-12,0) |- (p1a5.east);
\draw[link] (p1a.west) -- ++(-12,0) |- (p1a6.east);
\draw[link] (p1a.west) -- ++(-12,0) |- (p1a7.east);
\draw[link] (p1b.west) -- ++(-12,0) |- (p1b1.east);
\draw[link] (p1b.west) -- ++(-12,0) |- (p1b2.east);
\draw[link] (p1b.west) -- ++(-12,0) |- (p1b3.east);
\draw[link] (p1b.west) -- ++(-12,0) |- (p1b4.east);
\draw[link] (p1b.west) -- ++(-12,0) |- (p1b5.east);
\draw[link] (p1b.west) -- ++(-12,0) |- (p1b6.east);
\draw[link] (p1b.west) -- ++(-12,0) |- (p1b7.east);
\draw[link] (p1b.west) -- ++(-12,0) |- (p1b8.east);
\draw[link] (p1b.west) -- ++(-12,0) |- (p1b9.east);
\draw[link] (p1b.west) -- ++(-12,0) |- (p1b10.east);
\draw[link] (p1b.west) -- ++(-12,0) |- (p1b11.east);
\draw[link] (p1c.west) -- ++(-12,0) |- (p1c1.east);
\draw[link] (p1c.west) -- ++(-12,0) |- (p1c2.east);
\draw[link] (p1c.west) -- ++(-12,0) |- (p1c3.east);
\draw[link] (p1d.west) -- ++(-12,0) |- (p1d1.east);
\draw[link] (p1d.west) -- ++(-12,0) |- (p1d2.east);
\draw[link] (p1d.west) -- ++(-12,0) |- (p1d3.east);
\draw[link] (p1e.west) -- ++(-12,0) |- (p1e1.east);
\draw[link] (p1e.west) -- ++(-12,0) |- (p1e2.east);
\draw[link] (p1e.west) -- ++(-12,0) |- (p1e3.east);

% plan 3 links
\draw[link] (p3.west) -- ++(-12,0) |- (p3a.east);
\draw[link] (p3.west) -- ++(-12,0) |- (p3b.east);
\draw[link] (p3.west) -- ++(-12,0) |- (p3c.east);
\draw[link] (p3a.west) -- ++(-12,0) |- (p3a1.east);
\draw[link] (p3a.west) -- ++(-12,0) |- (p3a2.east);
\draw[link] (p3b.west) -- ++(-12,0) |- (p3b1.east);
\draw[link] (p3b.west) -- ++(-12,0) |- (p3b2.east);
\draw[link] (p3b2.west) -- ++(-12,0) |- (p3b2a.east);
\draw[link] (p3b2.west) -- ++(-12,0) |- (p3b2b.east);
\draw[link] (p3b2.west) -- ++(-12,0) |- (p3b2c.east);
\draw[link] (p3c.west) -- ++(-12,0) |- (p3c1.east);
\draw[link] (p3c.west) -- ++(-12,0) |- (p3c2.east);
\draw[link] (p3c.west) -- ++(-12,0) |- (p3c3.east);
\draw[link] (p3c1.west) -- ++(-12,0) |- (p3c1a.east);
\draw[link] (p3c1.west) -- ++(-12,0) |- (p3c1b.east);
\draw[link] (p3c2.west) -- ++(-12,0) |- (p3c2a.east);
\draw[link] (p3c2.west) -- ++(-12,0) |- (p3c2b.east);
\draw[link] (p3c2.west) -- ++(-12,0) |- (p3c2c.east);
\draw[link] (p3c3.west) -- ++(-12,0) |- (p3c3a.east);
\draw[link] (p3c3.west) -- ++(-12,0) |- (p3c3b.east);

% plan 5 links
\draw[link] (p5.west) -- ++(-12,0) |- (p5a.east);
\draw[link] (p5.west) -- ++(-12,0) |- (p5b.east);
\draw[link] (p5.west) -- ++(-12,0) |- (p5c.east);
\draw[link] (p5.west) -- ++(-12,0) |- (p5d.east);
\draw[link] (p5.west) -- ++(-12,0) |- (p5e.east);
\draw[link] (p5a.west) -- ++(-12,0) |- (p5a1.east);
\draw[link] (p5b.west) -- ++(-12,0) |- (p5b1.east);
\draw[link] (p5c.west) -- ++(-12,0) |- (p5c1.east);
\draw[link] (p5c.west) -- ++(-12,0) |- (p5c2.east);
\draw[link] (p5c.west) -- ++(-12,0) |- (p5c3.east);
\draw[link] (p5c1.west) -- ++(-12,0) |- (p5c1a.east);
\draw[link] (p5c1.west) -- ++(-12,0) |- (p5c1b.east);
\draw[link] (p5c1.west) -- ++(-12,0) |- (p5c1c.east);
\draw[link] (p5c1.west) -- ++(-12,0) |- (p5c1d.east);
\draw[link] (p5c2.west) -- ++(-12,0) |- (p5c2a.east);
\draw[link] (p5c3.west) -- ++(-12,0) |- (p5c3a.east);
\draw[link] (p5e.west) -- ++(-12,0) |- (p5e1.east);
\draw[link] (p5e.west) -- ++(-12,0) |- (p5e2.east);
\draw[link] (p5e.west) -- ++(-12,0) |- (p5e3.east);
\draw[link] (p5e.west) -- ++(-12,0) |- (p5e4.east);
\draw[link] (p5e.west) -- ++(-12,0) |- (p5e5.east);
\draw[link] (p5e.west) -- ++(-12,0) |- (p5e6.east);
\draw[link] (p5e.west) -- ++(-12,0) |- (p5e7.east);
\draw[link] (p5e.west) -- ++(-12,0) |- (p5e8.east);
\draw[link] (p5e.west) -- ++(-12,0) |- (p5e9.east);
\draw[link] (p5e.west) -- ++(-12,0) |- (p5e10.east);
\draw[link] (p5e.west) -- ++(-12,0) |- (p5e11.east);
\draw[link] (p5e.west) -- ++(-12,0) |- (p5e12.east);
\draw[link] (p5e.west) -- ++(-12,0) |- (p5e13.east);
\draw[link] (p5e.west) -- ++(-12,0) |- (p5e14.east);
\draw[link] (p5e.west) -- ++(-12,0) |- (p5e15.east);
\draw[link] (p5e10.west) -- ++(-12,0) |- (p5e10a.east);
\draw[link] (p5e10.west) -- ++(-12,0) |- (p5e10b.east);
\draw[link] (p5e10.west) -- ++(-12,0) |- (p5e10c.east);

% plan 2 links
\draw[link] (p2.east) -- ++(13,0) |- (p2a.west);
\draw[link] (p2.east) -- ++(13,0) |- (p2b.west);
\draw[link] (p2.east) -- ++(13,0) |- (p2c.west);
\draw[link] (p2.east) -- ++(13,0) |- (p2d.west);
\draw[link] (p2.east) -- ++(13,0) |- (p2e.west);
\draw[link] (p2a.east) -- ++(12,0) |- (p2a1.west);
\draw[link] (p2a.east) -- ++(12,0) |- (p2a2.west);
\draw[link] (p2b.east) -- ++(12,0) |- (p2b1.west);
\draw[link] (p2b.east) -- ++(12,0) |- (p2b2.west);
\draw[link] (p2b.east) -- ++(12,0) |- (p2b3.west);
\draw[link] (p2b.east) -- ++(12,0) |- (p2b4.west);
\draw[link] (p2b.east) -- ++(12,0) |- (p2b5.west);
\draw[link] (p2c.east) -- ++(12,0) |- (p2c1.west);
\draw[link] (p2c.east) -- ++(12,0) |- (p2c2.west);
\draw[link] (p2c.east) -- ++(12,0) |- (p2c3.west);
\draw[link] (p2c.east) -- ++(12,0) |- (p2c4.west);
\draw[link] (p2c1.east) -- ++(12,0) |- (p2c1a.west);
\draw[link] (p2c1.east) -- ++(12,0) |- (p2c1b.west);
\draw[link] (p2c1.east) -- ++(12,0) |- (p2c1c.west);
\draw[link] (p2c1.east) -- ++(12,0) |- (p2c1d.west);
\draw[link] (p2c1.east) -- ++(12,0) |- (p2c1e.west);
\draw[link] (p2c1.east) -- ++(12,0) |- (p2c1f.west);
\draw[link] (p2c1.east) -- ++(12,0) |- (p2c1g.west);
\draw[link] (p2c2.east) -- ++(12,0) |- (p2c2a.west);
\draw[link] (p2c2.east) -- ++(12,0) |- (p2c2b.west);
\draw[link] (p2c2.east) -- ++(12,0) |- (p2c2c.west);
\draw[link] (p2c3.east) -- ++(12,0) |- (p2c3a.west);
\draw[link] (p2c3.east) -- ++(12,0) |- (p2c3b.west);
\draw[link] (p2c3.east) -- ++(12,0) |- (p2c3c.west);
\draw[link] (p2c3.east) -- ++(12,0) |- (p2c3d.west);
\draw[link] (p2c4.east) -- ++(12,0) |- (p2c4a.west);
\draw[link] (p2c4.east) -- ++(12,0) |- (p2c4b.west);
\draw[link] (p2c4.east) -- ++(12,0) |- (p2c4c.west);
\draw[link] (p2c4.east) -- ++(12,0) |- (p2c4d.west);
\draw[link] (p2c4.east) -- ++(12,0) |- (p2c4e.west);
\draw[link] (p2c4.east) -- ++(12,0) |- (p2c4f.west);
\draw[link] (p2d.east) -- ++(12,0) |- (p2d1.west);
\draw[link] (p2d.east) -- ++(12,0) |- (p2d2.west);
\draw[link] (p2e.east) -- ++(12,0) |- (p2e1.west);
\draw[link] (p2e.east) -- ++(12,0) |- (p2e2.west);
\draw[link] (p2e.east) -- ++(12,0) |- (p2e3.west);
\draw[link] (p2e.east) -- ++(12,0) |- (p2e4.west);

% plan 4 links
\draw[link] (p4.east) -- ++(13,0) |- (p4a.west);
\draw[link] (p4.east) -- ++(13,0) |- (p4b.west);
\draw[link] (p4.east) -- ++(13,0) |- (p4c.west);
\draw[link] (p4.east) -- ++(13,0) |- (p4d.west);
\draw[link] (p4.east) -- ++(13,0) |- (p4e.west);
\draw[link] (p4.east) -- ++(13,0) |- (p4f.west);
\draw[link] (p4.east) -- ++(13,0) |- (p4g.west);
\draw[link] (p4.east) -- ++(13,0) |- (p4h.west);
\draw[link] (p4.east) -- ++(13,0) |- (p4i.west);
\draw[link] (p4.east) -- ++(13,0) |- (p4j.west);
\draw[link] (p4.east) -- ++(13,0) |- (p4k.west);
\draw[link] (p4.east) -- ++(13,0) |- (p4l.west);
\draw[link] (p4.east) -- ++(13,0) |- (p4m.west);
\draw[link] (p4.east) -- ++(13,0) |- (p4n.west);
\draw[link] (p4.east) -- ++(13,0) |- (p4o.west);
\draw[link] (p4.east) -- ++(13,0) |- (p4p.west);
\draw[link] (p4.east) -- ++(13,0) |- (p4q.west);
\draw[link] (p4.east) -- ++(13,0) |- (p4r.west);
\draw[link] (p4.east) -- ++(13,0) |- (p4s.west);
\draw[link] (p4.east) -- ++(13,0) |- (p4t.west);
\draw[link] (p4.east) -- ++(13,0) |- (p4u.west);
\draw[link] (p4.east) -- ++(13,0) |- (p4v.west);
\draw[link] (p4c.east) -- ++(12,0) |- (p4c1.west);
\draw[link] (p4c.east) -- ++(12,0) |- (p4c2.west);
\draw[link] (p4d.east) -- ++(12,0) |- (p4d1.west);
\draw[link] (p4d.east) -- ++(12,0) |- (p4d2.west);
\draw[link] (p4e.east) -- ++(12,0) |- (p4e1.west);
\draw[link] (p4e.east) -- ++(12,0) |- (p4e2.west);
\draw[link] (p4f.east) -- ++(12,0) |- (p4f1.west);
\draw[link] (p4g.east) -- ++(12,0) |- (p4g1.west);
\draw[link] (p4g.east) -- ++(12,0) |- (p4g2.west);
\draw[link] (p4h.east) -- ++(12,0) |- (p4h1.west);
\draw[link] (p4h.east) -- ++(12,0) |- (p4h2.west);
\draw[link] (p4i.east) -- ++(12,0) |- (p4i1.west);
\draw[link] (p4i.east) -- ++(12,0) |- (p4i2.west);
\draw[link] (p4i.east) -- ++(12,0) |- (p4i3.west);
\draw[link] (p4j.east) -- ++(12,0) |- (p4j1.west);
\draw[link] (p4j.east) -- ++(12,0) |- (p4j2.west);
\draw[link] (p4k.east) -- ++(12,0) |- (p4k1.west);
\draw[link] (p4k1.east) -- ++(12,0) |- (p4k1a.west);
\draw[link] (p4k1.east) -- ++(12,0) |- (p4k1b.west);
\draw[link] (p4l.east) -- ++(12,0) |- (p4l1.west);
\draw[link] (p4l.east) -- ++(12,0) |- (p4l2.west);
\draw[link] (p4l.east) -- ++(12,0) |- (p4l3.west);
\draw[link] (p4l.east) -- ++(12,0) |- (p4l4.west);
\draw[link] (p4l.east) -- ++(12,0) |- (p4l5.west);
\draw[link] (p4l.east) -- ++(12,0) |- (p4l6.west);
\draw[link] (p4l.east) -- ++(12,0) |- (p4l7.west);
\draw[link] (p4l.east) -- ++(12,0) |- (p4l8.west);
\draw[link] (p4l1.east) -- ++(12,0) |- (p4l1a.west);
\draw[link] (p4l1.east) -- ++(12,0) |- (p4l1b.west);
\draw[link] (p4l1b.east) -- (p4l1c.west);
\draw[link] (p4l8.east) -- (p4l8a.west);
\draw[link] (p4s.east) -- (p4s1.west);

% related links
\draw[link] (rel.east) -- ++(13,0) |- (rel1.west);
\draw[link] (rel.east) -- ++(13,0) |- (rel2.west);
\draw[link] (rel.east) -- ++(13,0) |- (rel3.west);
\draw[link] (rel.east) -- ++(13,0) |- (rel4.west);
\draw[link] (rel.east) -- ++(13,0) |- (rel5.west);
\draw[link] (rel.east) -- ++(13,0) |- (rel6.west);
\draw[link] (rel.east) -- ++(13,0) |- (rel7.west);
\draw[link] (rel.east) -- ++(13,0) |- (rel8.west);
\draw[link] (rel.east) -- ++(13,0) |- (rel9.west);
\draw[link] (rel.east) -- ++(13,0) |- (rel10.west);
\end{tikzpicture}
\end{document}
